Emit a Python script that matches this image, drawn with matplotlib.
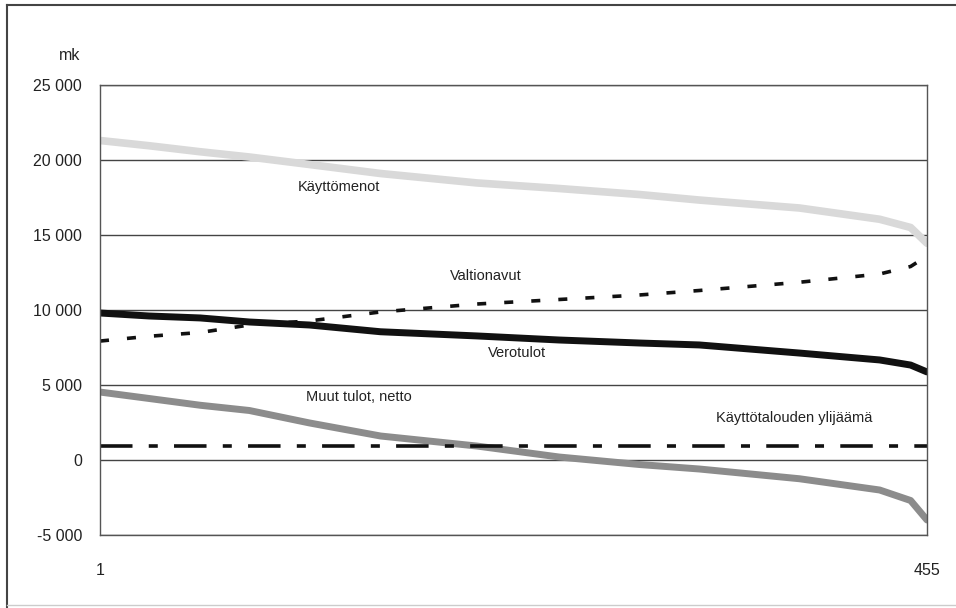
"""
Kuntien käyttötalous asukasta kohden, kunnat järjestettyinä (1-455)
"""
import matplotlib.pyplot as plt
from matplotlib.lines import Line2D

plt.rcParams['font.family'] = ['Liberation Sans', 'DejaVu Sans']

# kunnan järjestysnumero
ranks = [1, 28, 56, 83, 116, 155, 208, 253, 297, 330, 385, 429, 446, 455]

# mk / asukas
kayttomenot = [21300, 20950, 20550, 20200, 19700, 19100, 18470, 18100,
               17700, 17330, 16800, 16050, 15500, 14450]
valtionavut = [7930, 8250, 8500, 9000, 9270, 9870, 10400, 10700,
               11000, 11300, 11850, 12400, 12900, 13600]
verotulot = [9800, 9600, 9470, 9200, 9000, 8550, 8270, 8000,
             7800, 7670, 7130, 6670, 6330, 5870]
muut_tulot = [4530, 4100, 3650, 3300, 2470, 1600, 930, 200,
              -300, -600, -1250, -2000, -2700, -4000]
ylijaama = [930, 930, 930, 930, 930, 930, 930, 930,
            930, 930, 930, 930, 930, 930]

y_ticks = [-5000, 0, 5000, 10000, 15000, 20000, 25000]
y_labels = ['-5 000', '0', '5 000', '10 000', '15 000', '20 000', '25 000']
x_ticks = [1, 455]

fig = plt.figure(figsize=(9.56, 6.08), dpi=100)
ax = fig.add_axes([100 / 956, 1 - 535 / 608, 827 / 956, 450 / 608])

ax.plot(ranks, kayttomenot, color='#d9d9d9', lw=5.5, solid_capstyle='round')
ax.plot(ranks, valtionavut, color='#111111', lw=2.6, linestyle=(0, (2.5, 5)))
ax.plot(ranks, verotulot, color='#111111', lw=5, solid_capstyle='round')
ax.plot(ranks, muut_tulot, color='#8c8c8c', lw=5, solid_capstyle='round')
ax.plot(ranks, ylijaama, color='#111111', lw=2.6,
        linestyle=(0, (9, 4.5, 2.5, 4.5)))

ax.set_xlim(1, 455)
ax.set_ylim(-5000, 25000)
ax.set_yticks(y_ticks)
ax.set_yticklabels(y_labels, fontsize=11.5, color='#222222')
ax.set_xticks(x_ticks)
ax.set_xticklabels([str(t) for t in x_ticks], fontsize=11.5, color='#222222')
ax.tick_params(length=0)
ax.tick_params(axis='y', pad=13)
ax.tick_params(axis='x', pad=20)

ax.grid(axis='y', color='#444444', lw=1)
ax.set_axisbelow(True)
for sp in ax.spines.values():
    sp.set_color('#555555')
    sp.set_linewidth(1)

# sarjojen nimet
label_kw = dict(fontsize=10.5, color='#222222', ha='center', va='center')
ax.text(132, 18200, 'Käyttömenot', **label_kw)
ax.text(213, 12300, 'Valtionavut', **label_kw)
ax.text(230, 7150, 'Verotulot', **label_kw)
ax.text(143, 4200, 'Muut tulot, netto', **label_kw)
ax.text(382, 2800, 'Käyttötalouden ylijäämä', **label_kw)

fig.text(70 / 956, 1 - 56 / 608, 'mk', fontsize=11.5, color='#222222',
         ha='center', va='center')

# ulkokehys
fig.add_artist(Line2D([7 / 956, 1], [1 - 5 / 608, 1 - 5 / 608],
                      color='#444444', lw=1.5))
fig.add_artist(Line2D([7 / 956, 7 / 956], [1 - 5 / 608, 0],
                      color='#444444', lw=1.5))
fig.add_artist(Line2D([7 / 956, 1], [1 - 605 / 608, 1 - 605 / 608],
                      color='#cccccc', lw=1))

plt.savefig('out.png', dpi=100)
